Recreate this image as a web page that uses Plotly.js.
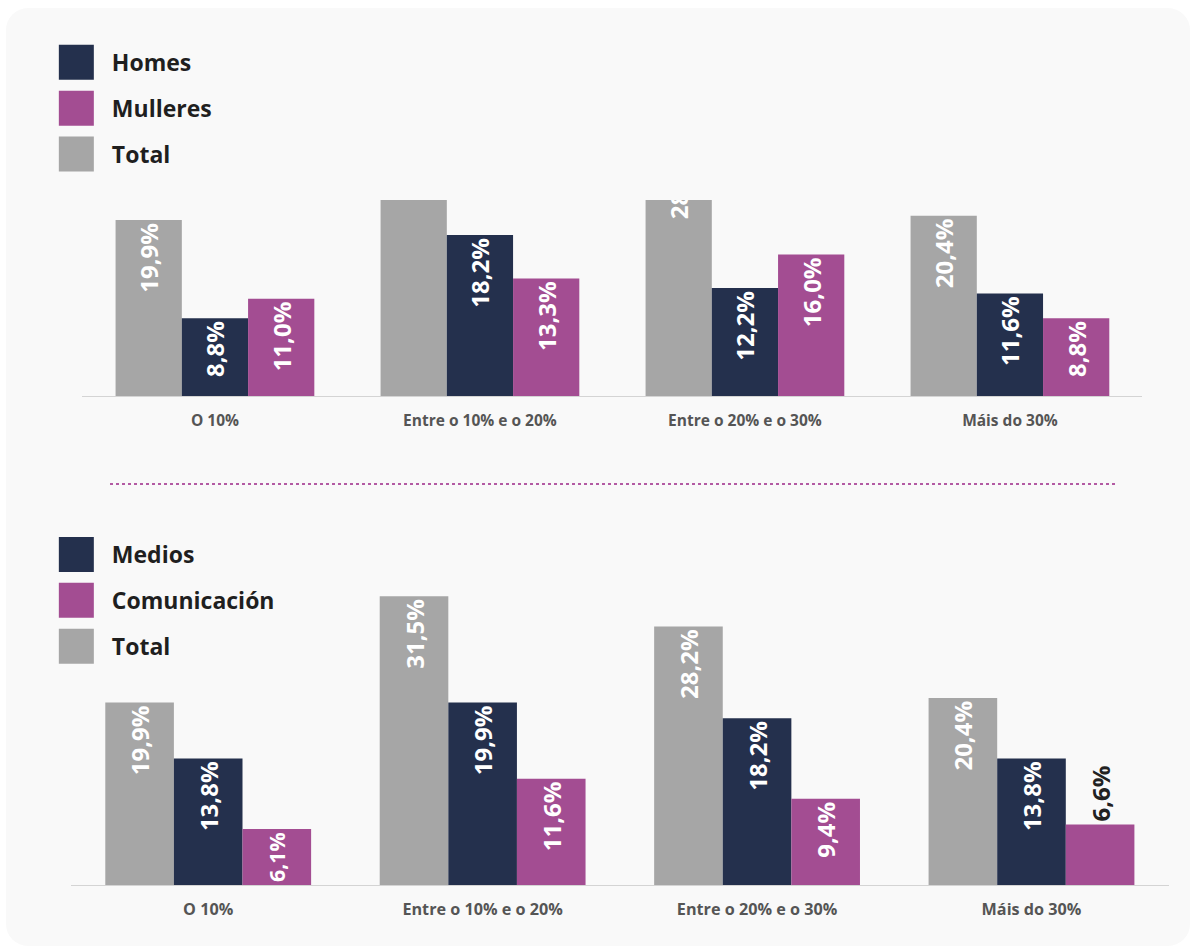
<!DOCTYPE html>
<html>
<head>
<meta charset="utf-8">
<script src="https://cdn.plot.ly/plotly-3.0.1.min.js"></script>
<style>
  html, body { margin:0; padding:0; background:#ffffff; }
  #card { position:absolute; left:6px; top:8px; width:1184px; height:938px; background:#f9f9f9; border-radius:22px; }
  #chart { position:absolute; left:0; top:0; width:1195px; height:950px; }
</style>
</head>
<body>
<div id="card"></div>
<div id="chart"></div>
<script>
// ---- data ----
const categories = ["O 10%", "Entre o 10% e o 20%", "Entre o 20% e o 30%", "Máis do 30%"];
// top chart (by sex)
const totalTop = [19.9, 31.5, 28.2, 20.4];
const homes = [8.8, 18.2, 12.2, 11.6];
const mulleres = [11.0, 13.3, 16.0, 8.8];
// bottom chart (by field)
const totalBottom = [19.9, 31.5, 28.2, 20.4];
const medios = [13.8, 19.9, 18.2, 13.8];
const comunicacion = [6.1, 11.6, 9.4, 6.6];

const C_NAVY = "#24304d", C_PURPLE = "#a34d92", C_GRAY = "#a6a6a6";
const fmt = v => v.toFixed(1).replace(".", ",") + "%";

function barTrace(name, vals, color, xa, ya, legend, rank, textsize, posFn) {
  return {
    type: "bar", name: name, x: categories, y: vals,
    xaxis: xa, yaxis: ya, legend: legend, legendrank: rank, legendgroup: name + xa,
    marker: { color: color, line: { width: 0 } },
    text: vals.map(fmt),
    textposition: posFn ? vals.map(posFn) : "inside",
    insidetextanchor: "end",
    textangle: -90,
    constraintext: "inside",
    textfont: { family: "Open Sans", size: textsize, weight: "bold" },
    insidetextfont: { family: "Open Sans", size: textsize, color: "#ffffff", weight: "bold" },
    outsidetextfont: { family: "Open Sans", size: textsize, color: "#222222", weight: "bold" },
    cliponaxis: true,
    hoverinfo: "skip"
  };
}

const data = [
  barTrace("Total", totalTop, C_GRAY, "x", "y", "legend", 3, 24),
  barTrace("Homes", homes, C_NAVY, "x", "y", "legend", 1, 24),
  barTrace("Mulleres", mulleres, C_PURPLE, "x", "y", "legend", 2, 24),
  barTrace("Total", totalBottom, C_GRAY, "x2", "y2", "legend2", 3, 24),
  barTrace("Medios", medios, C_NAVY, "x2", "y2", "legend2", 1, 24),
  barTrace("Comunicación", comunicacion, C_PURPLE, "x2", "y2", "legend2", 2, 24, v => v > 6.3 && v < 7 ? "outside" : "inside")
];

const legendFont = { family: "Open Sans", size: 23, color: "#1f1f1f", weight: "bold" };
const tickFontTop = { family: "Open Sans", size: 15.5, color: "#555555", weight: "bold" };
const tickFontBot = { family: "Open Sans", size: 16.2, color: "#555555", weight: "bold" };

const layout = {
  width: 1195, height: 950,
  margin: { l: 0, r: 0, t: 0, b: 0 },
  paper_bgcolor: "rgba(0,0,0,0)",
  plot_bgcolor: "rgba(0,0,0,0)",
  barmode: "group", bargap: 0.25, bargroupgap: 0,
  showlegend: true,
  legend: { x: 0.0484, y: 0.957, xanchor: "left", yanchor: "top", font: legendFont,
            traceorder: "grouped", tracegroupgap: 13, itemwidth: 44, bgcolor: "rgba(0,0,0,0)" },
  legend2: { x: 0.0484, y: 0.439, xanchor: "left", yanchor: "top", font: legendFont,
            traceorder: "grouped", tracegroupgap: 13, itemwidth: 44, bgcolor: "rgba(0,0,0,0)" },
  xaxis: { domain: [0.069, 0.956], anchor: "y", showline: true, linecolor: "#d4d4d4", linewidth: 1,
           ticks: "", tickfont: tickFontTop, ticklabelstandoff: 10, fixedrange: true },
  yaxis: { domain: [0.5832, 0.7895], anchor: "x", range: [0, 22.17], showticklabels: false,
           showgrid: false, zeroline: false, fixedrange: true },
  xaxis2: { domain: [0.0594, 0.978], anchor: "y2", showline: true, linecolor: "#d4d4d4", linewidth: 1,
           ticks: "", tickfont: tickFontBot, ticklabelstandoff: 10, fixedrange: true },
  yaxis2: { domain: [0.0684, 0.4105], anchor: "x2", range: [0, 35.44], showticklabels: false,
           showgrid: false, zeroline: false, fixedrange: true },
  shapes: [
    { type: "line", xref: "paper", yref: "paper", x0: 110 / 1195, x1: 1117 / 1195,
      y0: 1 - 484 / 950, y1: 1 - 484 / 950, line: { color: "#b35aa3", width: 2, dash: "dot" } }
  ]
};

function enlargeSwatches() {
  // legend swatches: 35px squares, 18px left of the label text
  document.querySelectorAll(".legendpoints path").forEach(function (p) {
    let tr = p.parentNode;
    while (tr && !(tr.classList && tr.classList.contains("traces"))) tr = tr.parentNode;
    if (!tr) return;
    const t = tr.querySelector("text");
    if (!t) return;
    p.setAttribute("d", "M0,0H1V1H0Z");
    const o = p.getBoundingClientRect();
    const tl = t.getBoundingClientRect().left;
    const left = tl - 18 - 35 - o.left;
    p.setAttribute("d", "M" + left + ",-17.5h35v35h-35Z");
  });
}

Plotly.newPlot("chart", data, layout, { displayModeBar: false, staticPlot: true }).then(function (gd) {
  enlargeSwatches();
  [20, 80, 200].forEach(function (ms) { setTimeout(enlargeSwatches, ms); });
});
</script>
</body>
</html>
